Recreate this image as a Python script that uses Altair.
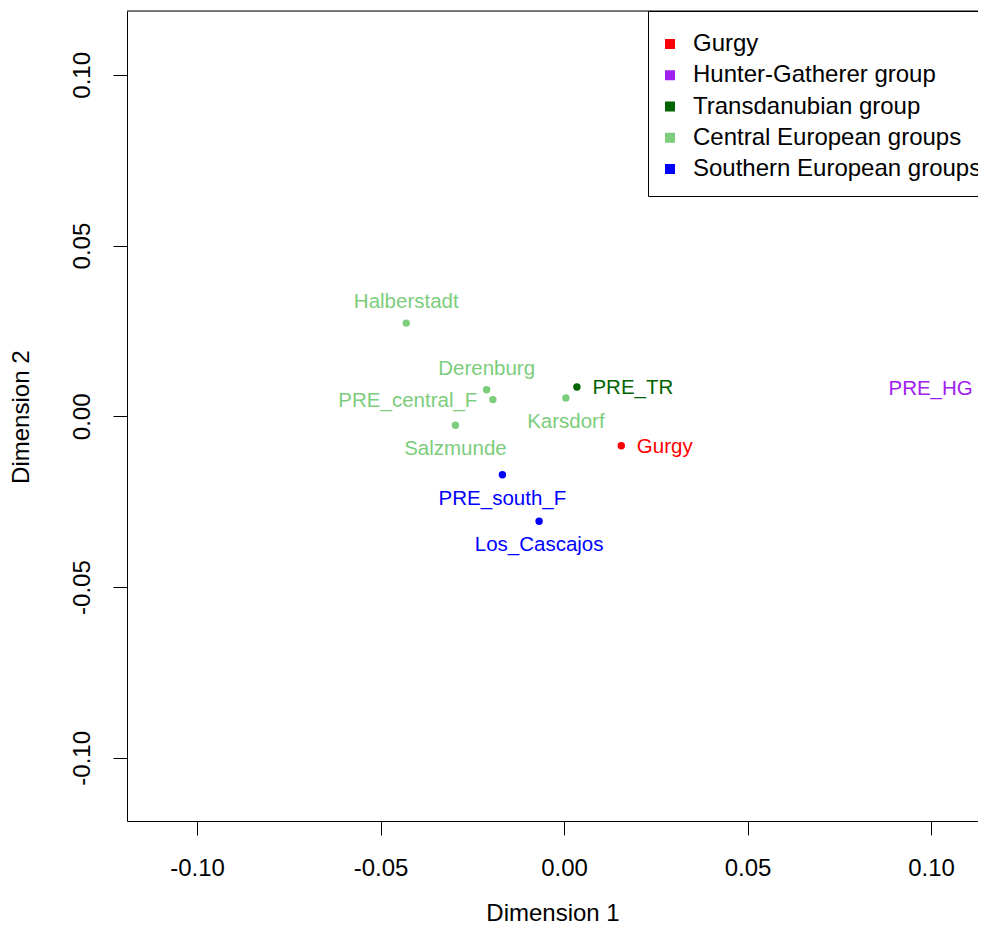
import altair as alt
import pandas as pd

# ---- data ----
names = ["Halberstadt", "Derenburg", "PRE_central_F", "Salzmunde", "Karsdorf",
         "PRE_TR", "Gurgy", "PRE_south_F", "Los_Cascajos", "PRE_HG"]
dim1 = [-0.0430, -0.0211, -0.0194, -0.0296, 0.0005, 0.0035, 0.0156, -0.0168, -0.0068, 0.1156]
dim2 = [0.0273, 0.0078, 0.0049, -0.0026, 0.0054, 0.0086, -0.0086, -0.0171, -0.0307, 0.0084]
groups_of_points = ["Central European groups"] * 5 + ["Transdanubian group", "Gurgy",
                    "Southern European groups", "Southern European groups", "Hunter-Gatherer group"]
label_side = ["top", "top", "left", "bottom", "bottom", "right", "right", "bottom", "bottom", "left"]

legend_groups = ["Gurgy", "Hunter-Gatherer group", "Transdanubian group",
                 "Central European groups", "Southern European groups"]
legend_colors = ["#FF0000", "#A020F0", "#006400", "#7CCD7C", "#0000FF"]
x_ticks = [-0.10, -0.05, 0.00, 0.05, 0.10]
y_ticks = [-0.10, -0.05, 0.00, 0.05, 0.10]

color_of = dict(zip(legend_groups, legend_colors))
df = pd.DataFrame({
    "name": names, "d1": dim1, "d2": dim2, "group": groups_of_points,
    "side": label_side, "hex": [color_of[g] for g in groups_of_points],
})

FONT = "Liberation Sans"
W, H = 851, 810
LABEL_EXPR = "datum.value < 0 ? '-' + format(-datum.value, '.2f') : format(datum.value, '.2f')"

x_enc = alt.X("d1:Q", scale=alt.Scale(domain=[-0.1191, 0.1128], nice=False, zero=False),
              axis=alt.Axis(values=x_ticks, labelExpr=LABEL_EXPR, title="Dimension 1", grid=False,
                            tickSize=14, labelPadding=21, labelFontSize=24, labelBaseline="top",
                            titleFontSize=24, titleFontWeight="normal", titleBaseline="alphabetic",
                            titleY=99, labelColor="black", titleColor="black",
                            domainColor="black", tickColor="black", labelFont=FONT, titleFont=FONT))
y_enc = alt.Y("d2:Q", scale=alt.Scale(domain=[-0.1185, 0.1187], nice=False, zero=False),
              axis=alt.Axis(values=y_ticks, labelExpr=LABEL_EXPR, title="Dimension 2", grid=False,
                            tickSize=14, labelPadding=24, labelFontSize=24, labelAngle=270,
                            labelAlign="center", labelBaseline="alphabetic",
                            titleFontSize=24, titleFontWeight="normal", titleAngle=270,
                            titleBaseline="alphabetic", titleAlign="center",
                            titleX=-99, titleY=405.7,
                            labelColor="black", titleColor="black",
                            domainColor="black", tickColor="black", labelFont=FONT, titleFont=FONT))

base = alt.Chart(df)

points = base.mark_circle(size=55, opacity=1).encode(
    x=x_enc, y=y_enc,
    color=alt.Color("group:N", scale=alt.Scale(domain=legend_groups, range=legend_colors),
                    legend=alt.Legend(title=" ", titleFontSize=6, titlePadding=0,
                                      orient="none", legendX=521, legendY=0,
                                      padding=15, rowPadding=7.25, labelOffset=11, symbolOffset=-5,
                                      symbolType="square", symbolSize=100, symbolStrokeWidth=0,
                                      labelFontSize=24, labelFont=FONT, labelColor="black",
                                      labelLimit=0, strokeColor="black", fillColor="white",
                                      cornerRadius=0)),
)

def text_layer(side, **mk):
    return base.transform_filter(alt.datum.side == side).mark_text(
        font=FONT, fontSize=20.5, **mk
    ).encode(x="d1:Q", y="d2:Q", text="name:N", color=alt.Color("hex:N", scale=None))

labels = [
    text_layer("top", align="center", baseline="middle", dy=-21),
    text_layer("bottom", align="center", baseline="middle", dy=24),
    text_layer("left", align="right", baseline="middle", dx=-15.5, dy=1),
    text_layer("right", align="left", baseline="middle", dx=15.5, dy=1),
]

# top frame line of the plot box (right side is cut off in the reference)
top_frame = alt.Chart(pd.DataFrame({"k": [0]})).mark_rule(color="black", strokeWidth=1).encode(
    x=alt.value(0), x2=alt.value(W), y=alt.value(0)
)

chart = alt.layer(points, *labels, top_frame).properties(
    width=W, height=H,
    autosize=alt.AutoSizeParams(type="none"),
    padding={"left": 119, "top": 3, "right": 0, "bottom": 103},
).configure_view(strokeWidth=0).configure(font=FONT)

chart.save("out.html", embed_options={"renderer": "svg", "actions": False})
